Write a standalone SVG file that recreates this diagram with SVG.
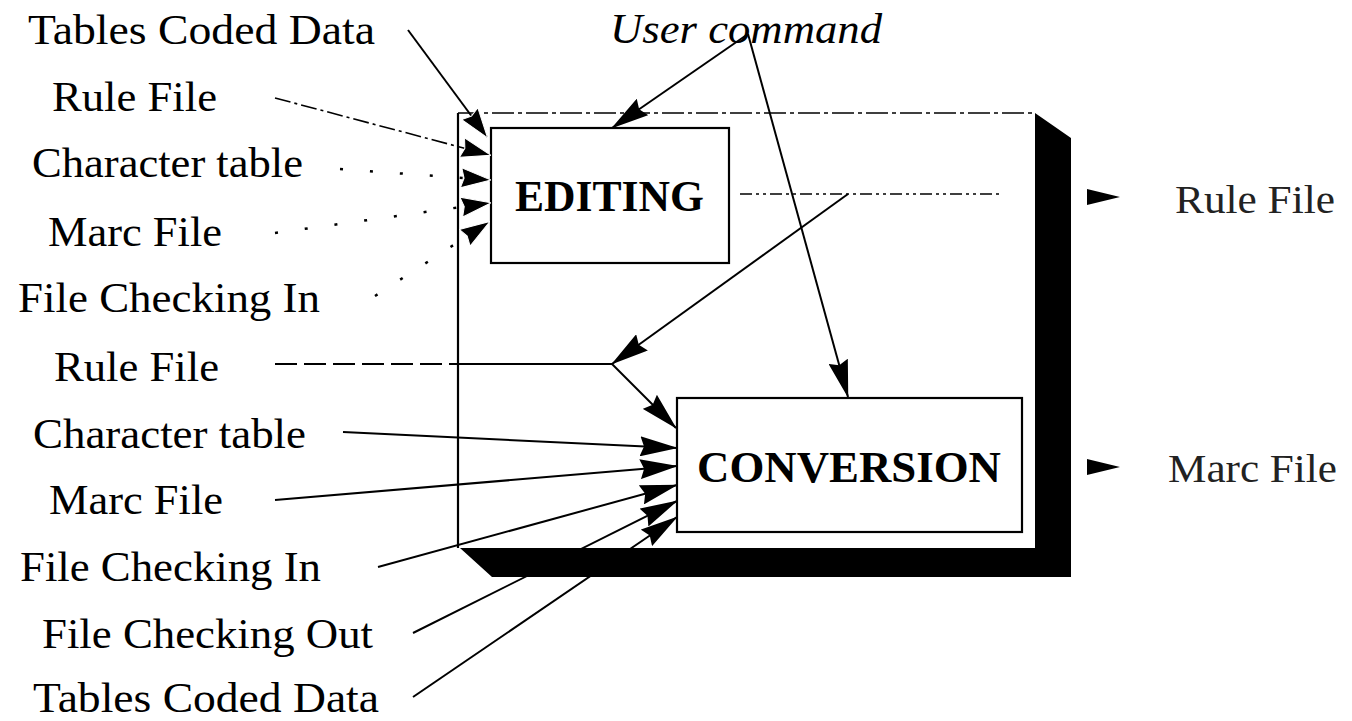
<svg xmlns="http://www.w3.org/2000/svg" width="1352" height="721" viewBox="0 0 1352 721">
<style>
.lbl{font-family:"Liberation Serif","Times New Roman",serif;font-size:42px;fill:#000}
.rlbl{font-family:"Liberation Serif","Times New Roman",serif;font-size:41px;fill:#222}
.ttl{font-family:"Liberation Serif","Times New Roman",serif;font-size:45px;font-weight:bold;fill:#000}
.it{font-family:"Liberation Serif","Times New Roman",serif;font-size:42px;font-style:italic;fill:#000}
.ln{stroke:#000;stroke-width:2;fill:none}
.dd{stroke:#000;stroke-width:1.6;fill:none;stroke-dasharray:16 4 3 4}
.dot{stroke:#000;stroke-width:2.5;fill:none;stroke-dasharray:3 27}
.box{fill:#fff;stroke:#000;stroke-width:2.2}
</style>
<defs>
<marker id="ah" markerUnits="userSpaceOnUse" markerWidth="38" markerHeight="20" refX="37" refY="10" orient="auto">
<path d="M0,0 L38,10 L0,20 L4,10 z" fill="#000"/>
</marker>
<marker id="ahs" markerUnits="userSpaceOnUse" markerWidth="30" markerHeight="20" refX="29" refY="10" orient="auto">
<path d="M0,0 L30,10 L0,20 L3,10 z" fill="#000" stroke="#fff" stroke-width="1"/>
</marker>
</defs>

<g id="frame">
<polygon points="460,548 1035,548 1035,113 1071,138 1071,577 492,577" fill="#000"/>
<rect x="458" y="113" width="577" height="435" fill="#fff"/>
<line x1="458" y1="113" x2="458" y2="548" stroke="#000" stroke-width="2.2"/>
<line x1="458" y1="113" x2="1035" y2="113" stroke="#000" stroke-width="1.6" stroke-dasharray="22 4 4 4"/>
</g>

<g id="editing">
<rect class="box" x="491" y="128" width="238" height="135"/>
<text class="ttl" x="515" y="211" textLength="189" lengthAdjust="spacingAndGlyphs">EDITING</text>
</g>

<g id="conversion">
<rect class="box" x="677" y="398" width="345" height="134"/>
<text class="ttl" x="697" y="482" textLength="304" lengthAdjust="spacingAndGlyphs">CONVERSION</text>
</g>

<g id="labels-left-top">
<text class="lbl" x="28" y="44" textLength="347" lengthAdjust="spacingAndGlyphs">Tables Coded Data</text>
<text class="lbl" x="52" y="111" textLength="165" lengthAdjust="spacingAndGlyphs">Rule File</text>
<text class="lbl" x="32" y="177" textLength="271" lengthAdjust="spacingAndGlyphs">Character table</text>
<text class="lbl" x="48" y="246" textLength="174" lengthAdjust="spacingAndGlyphs">Marc File</text>
<text class="lbl" x="18" y="312" textLength="302" lengthAdjust="spacingAndGlyphs">File Checking In</text>
</g>

<g id="labels-left-bottom">
<text class="lbl" x="54" y="381" textLength="165" lengthAdjust="spacingAndGlyphs">Rule File</text>
<text class="lbl" x="33" y="448" textLength="273" lengthAdjust="spacingAndGlyphs">Character table</text>
<text class="lbl" x="49" y="514" textLength="174" lengthAdjust="spacingAndGlyphs">Marc File</text>
<text class="lbl" x="20" y="581" textLength="301" lengthAdjust="spacingAndGlyphs">File Checking In</text>
<text class="lbl" x="42" y="648" textLength="331" lengthAdjust="spacingAndGlyphs">File Checking Out</text>
<text class="lbl" x="33" y="712" textLength="346" lengthAdjust="spacingAndGlyphs">Tables Coded Data</text>
</g>

<g id="user-command">
<text class="it" x="610" y="43" textLength="272" lengthAdjust="spacingAndGlyphs">User command</text>
</g>

<g id="outputs">
<polygon points="1087,189 1120,197 1087,205" fill="#000"/>
<text class="rlbl" x="1175" y="213" textLength="160" lengthAdjust="spacingAndGlyphs">Rule File</text>
<polygon points="1087,459 1120,467 1087,475" fill="#000"/>
<text class="rlbl" x="1168" y="482" textLength="169" lengthAdjust="spacingAndGlyphs">Marc File</text>
</g>

<g id="connectors">
<line class="ln" x1="408" y1="30" x2="487" y2="137" marker-end="url(#ahs)"/>
<line class="dd" x1="275" y1="98" x2="490" y2="155" marker-end="url(#ahs)"/>
<line class="dot" x1="340" y1="169" x2="490" y2="180" marker-end="url(#ahs)"/>
<line class="dot" x1="275" y1="233" x2="490" y2="203" marker-end="url(#ahs)"/>
<line class="dot" x1="375" y1="296" x2="489" y2="222" marker-end="url(#ahs)"/>

<line class="ln" x1="748" y1="34" x2="612" y2="128" marker-end="url(#ah)"/>
<line class="ln" x1="748" y1="34" x2="848" y2="397" marker-end="url(#ah)"/>

<line x1="740" y1="194" x2="1003" y2="194" stroke="#000" stroke-width="1.6" stroke-dasharray="12 4 3 4 3 4"/>
<line class="ln" x1="848" y1="194" x2="612" y2="364" marker-end="url(#ah)"/>

<line x1="275" y1="364" x2="458" y2="364" stroke="#000" stroke-width="2" stroke-dasharray="22 7"/>
<line class="ln" x1="458" y1="364" x2="612" y2="364"/>
<line class="ln" x1="612" y1="364" x2="676" y2="428" marker-end="url(#ah)"/>
<line class="ln" x1="343" y1="432" x2="677" y2="448" marker-end="url(#ah)"/>
<line class="ln" x1="275" y1="500" x2="677" y2="466" marker-end="url(#ah)"/>
<line class="ln" x1="378" y1="567" x2="677" y2="485" marker-end="url(#ah)"/>
<line class="ln" x1="413" y1="633" x2="677" y2="501" marker-end="url(#ah)"/>
<line class="ln" x1="413" y1="697" x2="677" y2="517" marker-end="url(#ah)"/>
</g>
</svg>
